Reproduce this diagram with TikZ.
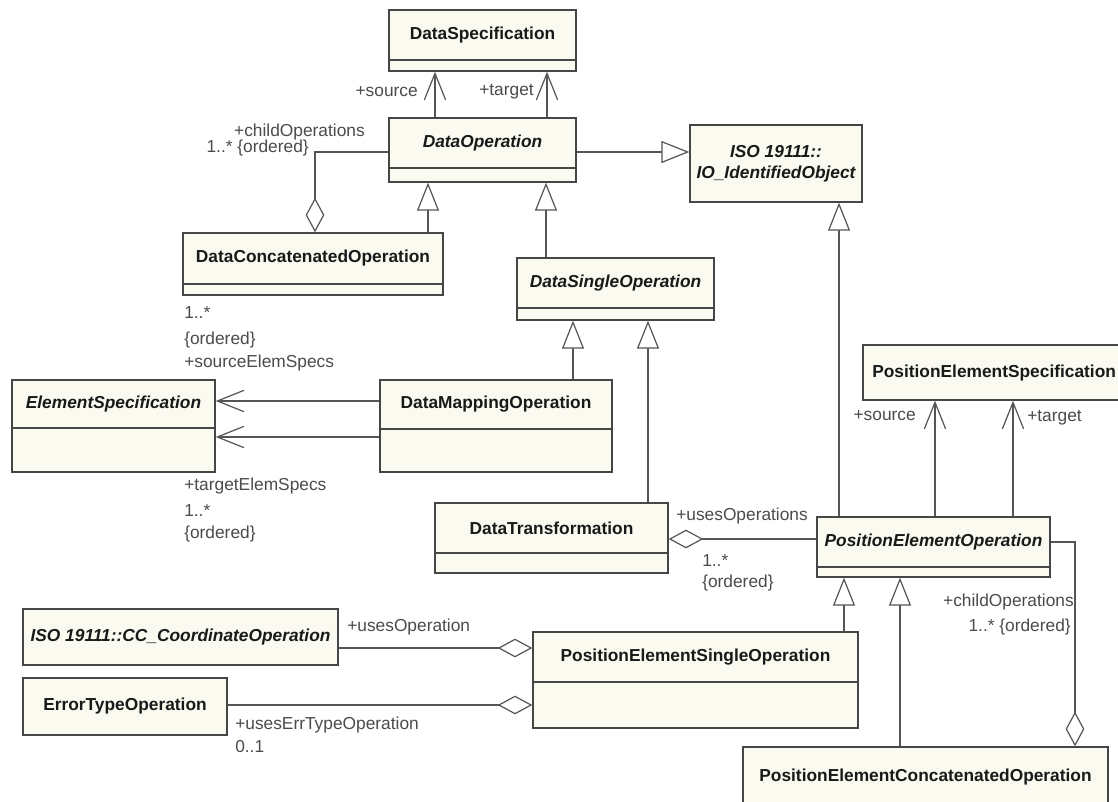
\documentclass[tikz,border=0pt]{standalone}
\usepackage{fontspec}
\setmainfont{Liberation Sans}
\usetikzlibrary{fit,arrows.meta}
\definecolor{boxfill}{RGB}{251,250,240}
\definecolor{boxline}{RGB}{70,70,70}
\definecolor{conline}{RGB}{85,85,85}
\definecolor{clstext}{RGB}{25,25,25}
\definecolor{lbltext}{RGB}{75,75,75}
\tikzset{
  clsbox/.style={draw=boxline, fill=boxfill, line width=1pt, inner sep=0pt},
  clstxt/.style={inner sep=0pt, text=clstext, align=center, font=\fontsize{13}{16}\selectfont\bfseries},
  clsital/.style={clstxt, font=\fontsize{13}{16}\selectfont\bfseries\itshape},
  lbl/.style={inner sep=0pt, text=lbltext, font=\fontsize{13}{15}\selectfont},
  conn/.style={draw=conline, line width=0.9pt},
  assoc/.style={conn, -{Straight Barb[length=20pt,width=16pt]}},
  gener/.style={conn, -{Triangle[open,length=21pt,width=16.5pt,fill=white]}},
  aggr/.style={conn, {Diamond[open,length=26pt,width=14pt,fill=white]}-},
}
% two-compartment class: style, name, x1, y1, x2, ydiv, y2, text
\newcommand\twoclass[8]{%
  \node[clsbox, fit={(#3,#4) (#5,#6)}] (#2) {};
  \node[clsbox, fit={(#3,#6) (#5,#7)}] (#2B) {};
  \node[#1] (#2T) at (#2.center) {#8};
}
% one-compartment class: style, name, x1, y1, x2, y2, text
\newcommand\oneclass[7]{%
  \node[clsbox, fit={(#3,#4) (#5,#6)}] (#2) {};
  \node[#1] (#2T) at (#2.center) {#7};
}
\begin{document}
\begin{tikzpicture}[x=0.75pt,y=-0.75pt]
\useasboundingbox (0,0) rectangle (1118,801);
\fill[white] (0,0) rectangle (1118,801);
\clip (0,0) rectangle (1118,801);

% classes
\twoclass{clstxt}{dsp}{389}{10}{576}{60}{71}{DataSpecification}
\twoclass{clsital}{dop}{389}{118}{576}{168}{182}{DataOperation}
\oneclass{clsital}{isoio}{690}{125}{862}{202}{ISO 19111::\\IO\_IdentifiedObject}
\twoclass{clstxt}{dcc}{183}{233}{443}{284}{295}{DataConcatenatedOperation}
\twoclass{clsital}{dso}{517}{258}{714}{308}{320}{DataSingleOperation}
\twoclass{clsital}{esp}{12}{380}{215}{428}{472}{ElementSpecification}
\twoclass{clstxt}{dmo}{380}{380}{612}{429}{472}{DataMappingOperation}
\twoclass{clstxt}{dtr}{435}{503}{668}{553}{573}{DataTransformation}
\node[clsbox, fit={(863,345) (1140,400)}] (pes) {};
\node[clstxt, anchor=west] (pesT) at (872,373) {PositionElementSpecification};
\twoclass{clsital}{peo}{817}{517}{1050}{567}{577}{PositionElementOperation}
\oneclass{clsital}{cco}{23}{609}{338}{665}{ISO 19111::CC\_CoordinateOperation}
\oneclass{clstxt}{eto}{23}{678}{227}{735}{ErrorTypeOperation}
\twoclass{clstxt}{peso}{533}{632}{858}{682}{728}{PositionElementSingleOperation}
\oneclass{clstxt}{peco}{743}{747}{1108}{808}{PositionElementConcatenatedOperation}

% associations
\draw[assoc] (dop.north -| 435,0) -- (dspB.south -| 435,0);
\draw[assoc] (dop.north -| 547,0) -- (dspB.south -| 547,0);
\draw[assoc] (dmo.west |- 0,401) -- (esp.east |- 0,401);
\draw[assoc] (dmoB.west |- 0,437) -- (espB.east |- 0,437);
\draw[assoc] (peo.north -| 935,0) -- (pes.south -| 935,0);
\draw[assoc] (peo.north -| 1013,0) -- (pes.south -| 1013,0);

% generalizations
\draw[gener] (dop.east |- 0,152) -- (isoio.west |- 0,152);
\draw[gener] (dcc.north -| 428,0) -- (dopB.south -| 428,0);
\draw[gener] (dso.north -| 546,0) -- (dopB.south -| 546,0);
\draw[gener] (dmo.north -| 573,0) -- (dsoB.south -| 573,0);
\draw[gener] (dtr.north -| 648,0) -- (dsoB.south -| 648,0);
\draw[gener] (peo.north -| 839,0) -- (isoio.south -| 839,0);
\draw[gener] (peso.north -| 844,0) -- (peoB.south -| 844,0);
\draw[gener] (peco.north -| 900,0) -- (peoB.south -| 900,0);

% aggregations
\draw[aggr] (dcc.north -| 315,0) |- (dop.west |- 0,152);
\draw[aggr] (dtr.east |- 0,539) -- (peo.west |- 0,539);
\draw[aggr] (peco.north -| 1075,0) |- (peo.east |- 0,542);
\draw[aggr] (peso.west |- 0,648) -- (cco.east |- 0,648);
\draw[aggr] (pesoB.west |- 0,705) -- (eto.east |- 0,705);

% labels
\node[lbl, anchor=east] (lsrc1) at (418,92) {+source};
\node[lbl, anchor=east] (ltgt1) at (534,92) {+target};
\node[lbl, anchor=east] (lchild1) at (365,132) {+childOperations};
\node[lbl, anchor=east] (lmult1) at (309,148) {1..* \{ordered\}};
\node[lbl, anchor=west] (lm2) at (184,313) {1..*};
\node[lbl, anchor=west] (lo2) at (184,340) {\{ordered\}};
\node[lbl, anchor=west] (ls2) at (184,363) {+sourceElemSpecs};
\node[lbl, anchor=west] (lt3) at (184,486) {+targetElemSpecs};
\node[lbl, anchor=west] (lm3) at (184,511) {1..*};
\node[lbl, anchor=west] (lo3) at (184,534) {\{ordered\}};
\node[lbl, anchor=west] (luo) at (676,516) {+usesOperations};
\node[lbl, anchor=west] (lm4) at (702,561) {1..*};
\node[lbl, anchor=west] (lo4) at (702,583) {\{ordered\}};
\node[lbl, anchor=east] (lsrc5) at (916,416) {+source};
\node[lbl, anchor=west] (ltgt5) at (1027,418) {+target};
\node[lbl, anchor=east] (lchild6) at (1074,602) {+childOperations};
\node[lbl, anchor=east] (lmult6) at (1071,627) {1..* \{ordered\}};
\node[lbl, anchor=west] (luo7) at (347,627) {+usesOperation};
\node[lbl, anchor=west] (lue8) at (235,725) {+usesErrTypeOperation};
\node[lbl, anchor=west] (lz8) at (235,747) {0..1};
\end{tikzpicture}
\end{document}
